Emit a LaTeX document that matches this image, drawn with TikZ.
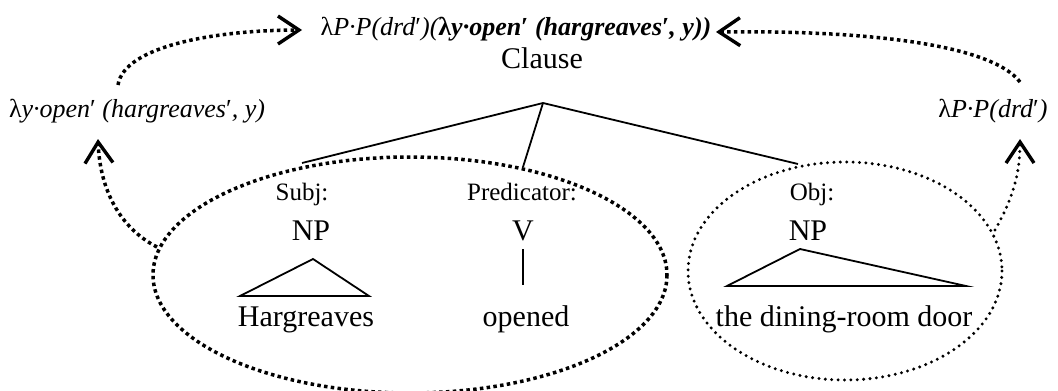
\documentclass[tikz,border=0pt]{standalone}
\usepackage{fontspec}
\setmainfont{Liberation Serif}
\usetikzlibrary{arrows.meta}
\tikzset{
  txt/.style={inner sep=0pt, anchor=base},
  big/.style={txt, font=\fontsize{30}{34}\selectfont},
  role/.style={txt, font=\fontsize{25}{29}\selectfont},
  sem/.style={txt, font=\fontsize{26}{30}\selectfont\itshape},
  branch/.style={line width=1.8pt},
  sqdots/.style={line width=3.5pt, dash pattern=on 3.5pt off 3.3pt},
  rddots/.style={line width=3.3pt, line cap=round, dash pattern=on 0pt off 6.4pt},
  barb/.style={-{Straight Barb[length=21pt,width=28pt,line width=3.4pt]}}
}
\newcommand{\lam}{{\upshape λ}}
\newcommand{\blam}{{\upshape\bfseries λ}}
\begin{document}
\begin{tikzpicture}[x=1pt,y=-1pt]
\path[use as bounding box] (0,0) rectangle (1058,391);

% semantic formulas
\node[sem] (top) at (516,35) {\lam P·P(drd\textup{′})(\bfseries\blam y·open\textup{′} (hargreaves\textup{′}, y))};
\node[sem] (lsem) at (137,117) {\lam y·open\textup{′} (hargreaves\textup{′}, y)};
\node[sem] (rsem) at (993,117) {\lam P·P(drd\textup{′})};

% tree
\node[big] (clause) at (542,68) {Clause};
\coordinate (apex) at (543,103);

\node[role] (subj) at (302,200) {Subj:};
\node[role] (pred) at (522,200) {Predicator:};
\node[role] (obj) at (812,200) {Obj:};

\node[big] (np1) at (311,240) {NP};
\node[big] (v) at (523,240) {V};
\node[big] (np2) at (808,240) {NP};

\node[big] (harg) at (306,326) {Hargreaves};
\node[big] (open) at (526,326) {opened};
\node[big] (door) at (844,326) {the dining-room door};

\coordinate (subjtop) at (302,163);
\coordinate (predtop) at (523,167);
\coordinate (objtop) at (798,164);
\draw[branch] (apex) -- (subjtop);
\draw[branch] (apex) -- (predtop);
\draw[branch] (apex) -- (objtop);

% roof triangles and the verb's stem
\draw[branch, line join=miter] (313,259) -- (240,296) -- (369,296) -- cycle;
\draw[branch, line join=miter] (800,249) -- (727,286) -- (966,286) -- cycle;
\draw[branch] (523,249) -- (523,285);

% constituents
\draw[sqdots] (410,275) ellipse [x radius=257, y radius=118];
\draw[rddots] (845,271) ellipse [x radius=157, y radius=109];

% composition arrows
\coordinate (l1s) at (157,247);
\coordinate (l1e) at (98,139);
\coordinate (l2s) at (118,85);
\coordinate (l2e) at (302,30);
\coordinate (r1s) at (1020,82);
\coordinate (r1e) at (716,32);
\coordinate (r2s) at (995,230);
\coordinate (r2e) at (1020,139);

\draw[sqdots, barb] (l1s) .. controls (120,228) and (100,190) .. (l1e);
\draw[sqdots, barb] (l2s) .. controls (124,45) and (220,30) .. (l2e);
\draw[sqdots, barb] (r1s) .. controls (992,45) and (870,30) .. (r1e);
\draw[rddots, barb] (r2s) .. controls (1012,200) and (1020,175) .. (r2e);
\end{tikzpicture}
\end{document}
